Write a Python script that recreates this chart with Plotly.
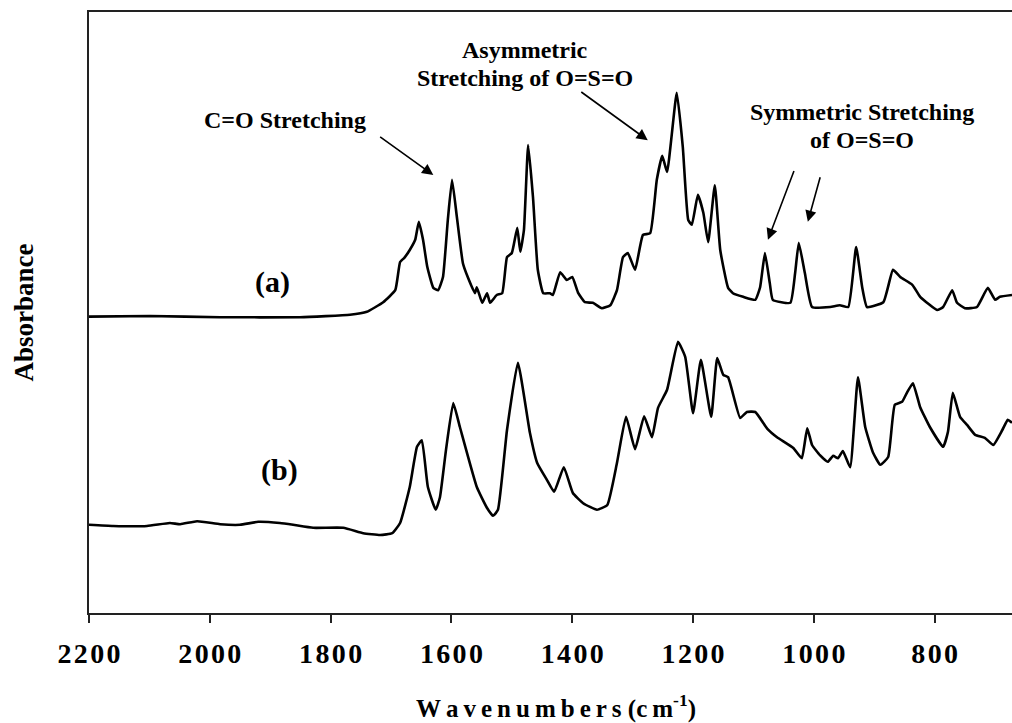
import plotly.graph_objects as go

# FTIR spectra, wavenumber (cm-1) vs absorbance (arbitrary offset units)

wn_a = [2200, 2099, 1983, 1851, 1768, 1740, 1713, 1693, 1685, 1678, 1669, 1660,
        1654, 1647, 1640, 1630, 1622, 1614, 1606, 1599, 1591, 1581, 1573, 1561,
        1558, 1549, 1541, 1536, 1525, 1516, 1508, 1500, 1491, 1486, 1480, 1473,
        1465, 1457, 1448, 1437, 1432, 1420, 1409, 1400, 1390, 1379, 1366, 1351,
        1337, 1326, 1316, 1308, 1296, 1283, 1271, 1260, 1251, 1243, 1227, 1217,
        1208, 1202, 1192, 1183, 1175, 1164, 1155, 1142, 1134, 1117, 1097, 1089,
        1081, 1073, 1068, 1039, 1031, 1025, 1015, 1003, 973, 957, 943, 930, 920,
        912, 885, 869, 857, 837, 824, 796, 786, 771, 763, 750, 730, 712, 700,
        692, 672]
abs_a = [48.9, 49.0, 48.8, 48.8, 49.2, 49.7, 51.3, 53.3, 58.0, 58.7, 60.0, 61.7,
         64.7, 61.7, 57.2, 53.7, 53.3, 55.5, 65.0, 71.7, 65.5, 57.8, 55.5, 52.8,
         53.8, 51.2, 52.8, 51.2, 52.5, 52.8, 58.8, 59.5, 63.7, 59.7, 63.3, 77.5,
         68.8, 56.7, 52.8, 52.8, 52.5, 56.3, 55.0, 55.5, 52.8, 51.3, 51.2, 50.3,
         50.8, 53.3, 58.8, 59.5, 56.7, 62.5, 62.8, 71.7, 75.7, 73.0, 86.2, 77.2,
         65.0, 64.2, 69.2, 66.2, 61.3, 70.8, 60.0, 53.7, 52.8, 52.2, 51.7, 53.8,
         59.5, 54.5, 51.7, 51.2, 56.2, 61.2, 56.2, 50.5, 50.5, 50.8, 50.5, 60.5,
         53.8, 50.5, 51.3, 56.7, 55.5, 54.2, 52.2, 50.0, 50.5, 53.3, 51.2, 50.3,
         50.5, 53.7, 51.7, 52.2, 52.5]

wn_b = [2200, 2160, 2104, 2066, 2049, 2021, 1983, 1950, 1920, 1884, 1862, 1829,
        1779, 1746, 1718, 1698, 1685, 1669, 1657, 1649, 1639, 1626, 1619, 1609,
        1597, 1586, 1558, 1541, 1531, 1523, 1508, 1490, 1470, 1458, 1442, 1430,
        1414, 1399, 1382, 1359, 1342, 1326, 1311, 1296, 1281, 1268, 1258, 1243,
        1225, 1213, 1200, 1187, 1170, 1160, 1150, 1142, 1122, 1111, 1097, 1077,
        1061, 1034, 1020, 1011, 1003, 990, 977, 968, 960, 952, 940, 927, 915,
        902, 890, 877, 866, 854, 846, 836, 824, 808, 786, 778, 770, 758, 746,
        733, 717, 703, 688, 679, 672]
abs_b = [14.2, 14.0, 14.0, 14.5, 14.3, 14.8, 14.3, 14.2, 14.7, 14.5, 14.2, 13.7,
         13.7, 12.8, 12.5, 12.8, 14.5, 20.5, 27.2, 28.3, 20.5, 16.7, 18.8, 26.7,
         34.5, 30.5, 20.5, 17.0, 15.7, 16.7, 30.0, 41.2, 29.5, 24.5, 21.7, 19.7,
         23.8, 19.5, 17.8, 16.7, 17.5, 24.5, 32.2, 26.8, 32.3, 28.8, 33.7, 36.7,
         44.7, 42.2, 32.8, 41.7, 32.2, 42.0, 39.2, 38.8, 32.0, 33.0, 33.0, 30.2,
         28.8, 27.0, 25.3, 30.3, 27.5, 25.8, 24.7, 25.7, 25.3, 26.5, 23.8, 38.8,
         30.5, 26.2, 24.2, 25.5, 34.2, 34.7, 36.2, 37.8, 33.8, 30.5, 27.2, 29.7,
         36.2, 32.2, 30.8, 29.2, 28.7, 27.5, 30.0, 31.7, 31.2]

tick_vals = [2200, 2000, 1800, 1600, 1400, 1200, 1000, 800]
tick_text = ["\u200a".join(str(v)) for v in tick_vals]

SERIF = "Liberation Serif, Times New Roman, serif"

fig = go.Figure()
for wn, ab in [(wn_a, abs_a), (wn_b, abs_b)]:
    fig.add_trace(go.Scatter(x=wn, y=ab, mode="lines",
                             line=dict(color="black", width=2.6, shape="spline", smoothing=0.4),
                             showlegend=False, hoverinfo="skip"))

labels = [
    ("C=O Stretching", 1875, 81.7, 24),
    ("Asymmetric", 1478, 93.3, 24),
    ("Stretching of O=S=O", 1478, 88.7, 24),
    ("Symmetric Stretching", 920, 83.0, 24),
    ("of O=S=O", 920, 78.3, 24),
    ("(a)", 1897, 54.7, 30),
    ("(b)", 1884, 23.3, 30),
]
for txt, x, y, size in labels:
    fig.add_annotation(x=x, y=y, text="<b>%s</b>" % txt, showarrow=False,
                       font=dict(family=SERIF, size=size, color="black"))

arrows = [
    (1630, 72.5, 1723, 79.2),
    (1275, 78.3, 1390, 86.7),
    (1076, 61.7, 1028, 74.5),
    (1010, 64.7, 985, 73.8),
]
for x, y, ax, ay in arrows:
    fig.add_annotation(x=x, y=y, ax=ax, ay=ay, axref="x", ayref="y", text=" ",
                       showarrow=True, arrowhead=2, arrowsize=1.4, arrowwidth=1.6,
                       arrowcolor="black")

fig.add_annotation(xref="paper", yref="paper", x=0.506, y=-0.156,
                   xanchor="center", yanchor="middle",
                   text="<b>W\u2009a\u2009v\u2009e\u2009n\u2009u\u2009m\u2009b\u2009e\u2009r\u2009s (c\u2009m<sup>-1</sup>)</b>",
                   showarrow=False, font=dict(family=SERIF, size=25, color="black"))
fig.add_annotation(xref="paper", yref="paper", x=-0.0715, y=0.50, textangle=-90,
                   xanchor="center", yanchor="middle",
                   text="<b>Absorbance</b>", showarrow=False,
                   font=dict(family=SERIF, size=27, color="black"))

fig.update_xaxes(range=[2200, 672], tickvals=tick_vals, ticktext=tick_text,
                 showline=True, linecolor="#222", linewidth=1.6, mirror=True,
                 ticks="outside", ticklen=8, tickwidth=1.5, tickcolor="#222",
                 ticklabelstandoff=7, showgrid=False, zeroline=False,
                 tickfont=dict(family=SERIF, size=28, color="black", weight="bold"))
fig.update_yaxes(range=[-0.5, 99.67], showticklabels=False, showline=True,
                 linecolor="#222", linewidth=1.6, ticks="", showgrid=False,
                 zeroline=False)
fig.update_layout(width=1012, height=723, plot_bgcolor="white", paper_bgcolor="white",
                  margin=dict(l=89, r=0, t=12, b=110))

fig.write_html("out.html", config={"displayModeBar": False},
               post_script="document.body.style.margin='0';")
